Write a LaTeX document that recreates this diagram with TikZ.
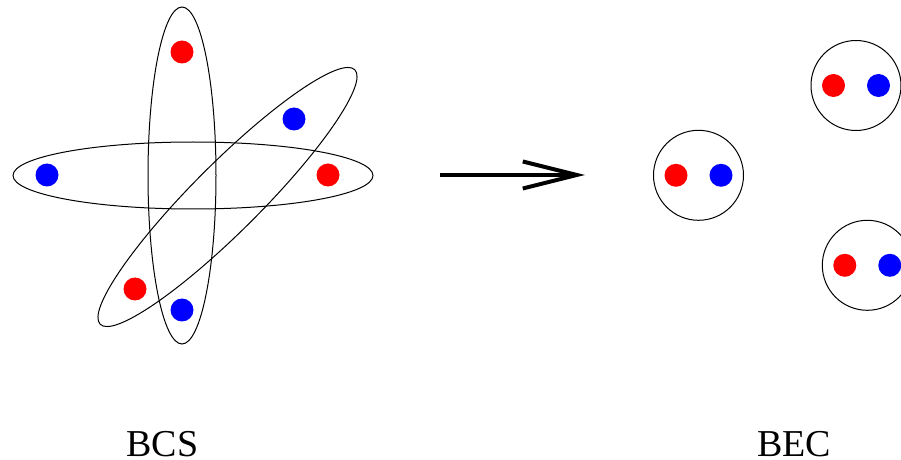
\documentclass[tikz,border=0pt]{standalone}
\usepackage{fontspec}
\setmainfont{Liberation Serif}
\usetikzlibrary{arrows.meta,positioning,shapes.geometric}

\tikzset{
  pairring/.style={draw,ellipse,line width=0.5pt,inner sep=0pt},
  molecule/.style={draw,circle,line width=0.5pt,minimum size=45pt,inner sep=0pt},
  updot/.style={circle,fill=red,minimum size=11.5pt,inner sep=0pt},
  downdot/.style={circle,fill=blue,minimum size=11.5pt,inner sep=0pt},
  regime/.style={font=\fontsize{19}{22}\selectfont,anchor=base,inner sep=0pt}
}

\begin{document}
\begin{tikzpicture}[x=0.5pt,y=-0.5pt]
  \useasboundingbox (0,0) rectangle (901,460);

  % BCS side: overlapping Cooper pairs
  \node[pairring,minimum width=180pt,minimum height=33.5pt] (hpair) at (193,175.5) {};
  \node[pairring,minimum width=34pt,minimum height=168.5pt] (vpair) at (182,175.5) {};
  \node[pairring,minimum width=180pt,minimum height=34pt,rotate=45] (dpair) at (227.5,197) {};

  \node[downdot] (hdown) at (47,175) {};
  \node[updot] (hup) at (328,175) {};
  \node[updot] (vup) at (182,52) {};
  \node[downdot] (vdown) at (182,310) {};
  \node[downdot] (ddown) at (294,119) {};
  \node[updot] (dup) at (135,289) {};

  % crossover arrow
  \coordinate (from) at (440,175);
  \coordinate (to) at (585,175);
  \draw[line width=2pt,-{Straight Barb[length=27pt,width=13.5pt,line width=2pt]}] (from) -- (to);

  % BEC side: tight molecules
  \node[molecule] (mola) at (698.5,175.3) {};
  \node[molecule] (molb) at (856,85.5) {};
  \node[molecule] (molc) at (867.3,265.3) {};
  \foreach \m in {mola,molb,molc} {
    \node[updot] (\m up) at ([xshift=-11.25pt]\m.center) {};
    \node[downdot] (\m down) at ([xshift=11.25pt]\m.center) {};
  }

  \node[regime] (bcs) at (162.5,456) {BCS};
  \node[regime] (bec) at (794,456) {BEC};
\end{tikzpicture}
\end{document}
